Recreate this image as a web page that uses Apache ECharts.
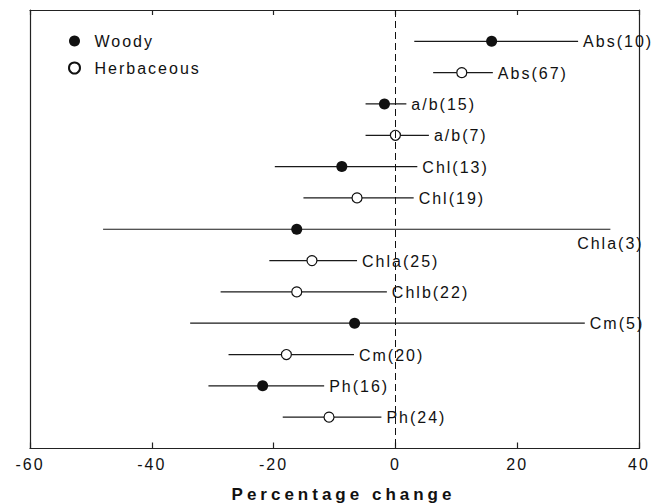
<!DOCTYPE html>
<html>
<head>
<meta charset="utf-8">
<title>Percentage change</title>
<script src="https://cdn.jsdelivr.net/npm/echarts@6/dist/echarts.min.js"></script>
<style>
    html, body { margin: 0; padding: 0; background: #fff; }
    #main { width: 664px; height: 504px; }
    /* the original figure uses widely spaced lettering */
    #main text { letter-spacing: 2px; }
    #main text[style*="bold"] { letter-spacing: 4px; }
</style>
</head>
<body>
<div id="main"></div>
<script>
// rows from top to bottom
var labels = ['Abs(10)', 'Abs(67)', 'a/b(15)', 'a/b(7)', 'Chl(13)', 'Chl(19)', 'Chla(3)',
    'Chla(25)', 'Chlb(22)', 'Cm(5)', 'Cm(20)', 'Ph(16)', 'Ph(24)'];
var groups = ['Woody', 'Herbaceous', 'Woody', 'Herbaceous', 'Woody', 'Herbaceous', 'Woody',
    'Herbaceous', 'Herbaceous', 'Woody', 'Herbaceous', 'Woody', 'Herbaceous'];
var means = [15.8, 10.9, -1.8, 0, -8.8, -6.3, -16.2, -13.7, -16.2, -6.7, -17.9, -21.8, -10.9];
var lows = [3.1, 6.2, -4.9, -4.9, -19.8, -15.1, -48.0, -20.7, -28.7, -33.7, -27.4, -30.7, -18.5];
var highs = [30.0, 16.0, 1.8, 5.5, 3.6, 3.0, 35.3, -6.3, -1.4, 31.1, -6.8, -11.7, -2.3];
var xTicks = [-60, -40, -20, 0, 20, 40];

var font = '"Liberation Sans", Arial, sans-serif';
var ink = '#111';

var woody = [], herb = [], bars = [];
for (var i = 0; i < labels.length; i++) {
    var row = i + 1;
    if (groups[i] === 'Woody') woody.push([means[i], row]);
    else herb.push([means[i], row]);
    bars.push([lows[i], highs[i], row]);
}

var myChart = echarts.init(document.getElementById('main'), null, {renderer: 'svg'});

var frameLine = {show: true, onZero: false, lineStyle: {color: '#222', width: 1.2}};

var option = {
    animation: false,
    grid: {left: 30, top: 10, width: 609, height: 438.5, outerBoundsMode: 'none', containLabel: false},
    legend: {
        orient: 'vertical',
        left: 63,
        top: 28,
        itemWidth: 30,
        itemHeight: 11,
        itemGap: 11,
        icon: 'circle',
        data: ['Woody', 'Herbaceous'],
        textStyle: {fontFamily: font, fontSize: 16, color: ink}
    },
    xAxis: [{
        type: 'value',
        min: xTicks[0],
        max: xTicks[xTicks.length - 1],
        interval: 20,
        name: 'Percentage change',
        nameLocation: 'middle',
        nameGap: 37,
        nameTextStyle: {fontFamily: font, fontSize: 17, fontWeight: 'bold', color: ink, padding: [0, 0, 0, 18]},
        axisLine: frameLine,
        axisTick: {inside: true, length: 6, lineStyle: {color: '#222', width: 1.2}},
        axisLabel: {fontFamily: font, fontSize: 16, color: ink, margin: 8},
        splitLine: {show: false}
    }, {
        type: 'value',
        position: 'top',
        min: xTicks[0],
        max: xTicks[xTicks.length - 1],
        interval: 20,
        axisLine: frameLine,
        axisTick: {inside: true, length: 5, lineStyle: {color: '#222', width: 1.2}},
        axisLabel: {show: false},
        splitLine: {show: false}
    }],
    yAxis: [{
        type: 'value',
        inverse: true,
        min: 0,
        max: labels.length + 1,
        axisLine: frameLine,
        axisTick: {show: false},
        axisLabel: {show: false},
        splitLine: {show: false}
    }, {
        type: 'value',
        position: 'right',
        inverse: true,
        min: 0,
        max: labels.length + 1,
        axisLine: frameLine,
        axisTick: {show: false},
        axisLabel: {show: false},
        splitLine: {show: false}
    }],
    series: [{
        // error bars and row labels
        type: 'custom',
        data: bars,
        z: 1,
        renderItem: function (params, api) {
            var row = api.value(2);
            var p1 = api.coord([api.value(0), row]);
            var p2 = api.coord([api.value(1), row]);
            var name = labels[params.dataIndex];
            // a label that would run off the page goes under the end of its bar
            var below = p2[0] > api.getWidth() - 60;
            return {
                type: 'group',
                children: [{
                    type: 'line',
                    shape: {x1: p1[0], y1: p1[1], x2: p2[0], y2: p2[1]},
                    style: {stroke: '#1a1a1a', lineWidth: 1.2}
                }, {
                    type: 'text',
                    x: below ? p2[0] : p2[0] + 5,
                    y: below ? p2[1] + 14 : p2[1] + 0.5,
                    style: {
                        text: name,
                        font: '16px ' + font,
                        fill: ink,
                        align: below ? 'center' : 'left',
                        verticalAlign: 'middle'
                    }
                }]
            };
        },
        markLine: {
            silent: true,
            symbol: 'none',
            label: {show: false},
            lineStyle: {color: '#111', width: 1, type: [7, 4]},
            data: [{xAxis: 0}]
        }
    }, {
        name: 'Woody',
        type: 'scatter',
        data: woody,
        symbolSize: 11,
        z: 3,
        itemStyle: {color: '#111', opacity: 1}
    }, {
        name: 'Herbaceous',
        type: 'scatter',
        data: herb,
        symbolSize: 10,
        z: 3,
        itemStyle: {color: '#fff', borderColor: '#111', borderWidth: 1.2, opacity: 1}
    }]
};

myChart.setOption(option);
</script>
</body>
</html>
